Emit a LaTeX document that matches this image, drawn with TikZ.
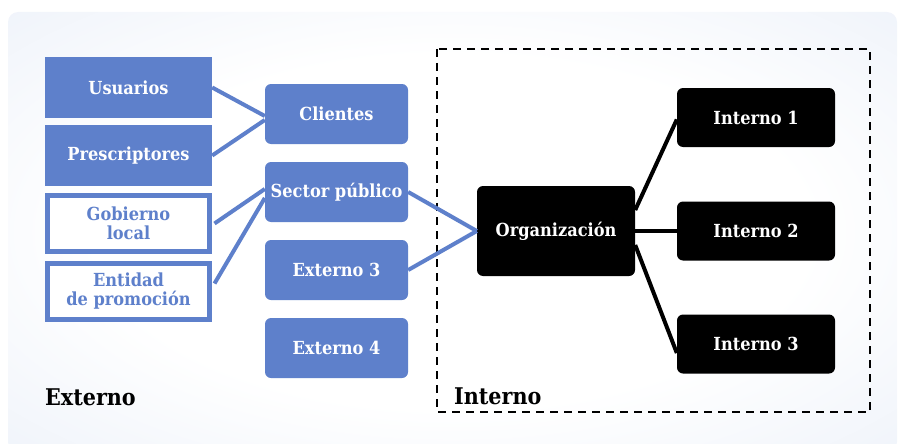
\documentclass[tikz,border=0pt]{standalone}
\usepackage{fontspec}
\setmainfont{DejaVu Serif Condensed}
\definecolor{blueext}{RGB}{94,128,203}
\definecolor{bgmid}{RGB}{232,238,248}
\definecolor{bgedge}{RGB}{210,220,240}
\pgfdeclareradialshading{bgshade}{\pgfpoint{0bp}{0bp}}{color(0bp)=(white); color(20bp)=(white); color(44bp)=(bgmid); color(70bp)=(bgedge)}
\begin{document}
\begin{tikzpicture}[x=1pt,y=-1pt,
  extbox/.style={fill=blueext, text=white, minimum width=167pt, minimum height=61pt, inner sep=0pt, font=\fontsize{18}{20}\selectfont\bfseries},
  extwhite/.style={draw=blueext, line width=5pt, fill=white, text=blueext, minimum width=162pt, minimum height=56pt, inner sep=0pt, align=center, font=\fontsize{18}{19}\selectfont\bfseries},
  midbox/.style={fill=blueext, text=white, rounded corners=6pt, minimum width=143pt, minimum height=60pt, inner sep=0pt, font=\fontsize{18}{20}\selectfont\bfseries},
  intbox/.style={fill=black, text=white, rounded corners=6pt, minimum width=158pt, minimum height=59pt, inner sep=0pt, font=\fontsize{18}{20}\selectfont\bfseries},
  blueline/.style={draw=blueext, line width=4pt},
  blackline/.style={draw=black, line width=4pt},
  zonelabel/.style={anchor=base west, inner sep=0pt, font=\fontsize{23}{26}\selectfont\bfseries}]
\useasboundingbox (0,0) rectangle (899,444);

%draw the background
\shade[shading=bgshade, rounded corners=10pt] (8,12) rectangle (897,452);
\draw[line width=2.5pt, dash pattern=on 8pt off 6pt] (437,49) rectangle (870,412);

%external nodes
\node[extbox] (usuarios) at (128.5,87.5) {Usuarios};
\node[extbox] (prescriptores) at (128.5,155.5) {Prescriptores};
\node[extwhite] (gobierno) at (128.5,223.5) {Gobierno\\local};
\node[extwhite] (entidad) at (128.5,291.5) {Entidad\\de promoción};

\node[midbox] (clientes) at (336.5,114) {Clientes};
\node[midbox] (sector) at (336.5,192) {Sector público};
\node[midbox] (externo3) at (336.5,270) {Externo 3};
\node[midbox] (externo4) at (336.5,348) {Externo 4};

%internal nodes
\node[intbox, minimum height=90pt] (org) at (556,231) {Organización};
\node[intbox] (interno1) at (756,117.5) {Interno 1};
\node[intbox] (interno2) at (756,231) {Interno 2};
\node[intbox] (interno3) at (756,344) {Interno 3};

%draw the connections
\draw[blueline] (usuarios.east) -- ([yshift=-2pt]clientes.west);
\draw[blueline] (prescriptores.east) -- ([yshift=-6pt]clientes.west);
\draw[blueline] ([xshift=2.5pt]gobierno.east) -- ([yshift=3pt]sector.west);
\draw[blueline] ([xshift=2.5pt,yshift=8pt]entidad.east) -- ([yshift=-6pt]sector.west);
\draw[blueline] (sector.east) -- (org.west);
\draw[blueline] (externo3.east) -- (org.west);

\draw[blackline] ([yshift=21pt]org.east) -- ([yshift=-2pt]interno1.west);
\draw[blackline] (org.east) -- (interno2.west);
\draw[blackline] ([yshift=-14pt]org.east) -- ([yshift=-9pt]interno3.west);

%zone labels
\node[zonelabel] (externo) at (45,405) {Externo};
\node[zonelabel] (interno) at (454,404) {Interno};

\end{tikzpicture}
\end{document}
